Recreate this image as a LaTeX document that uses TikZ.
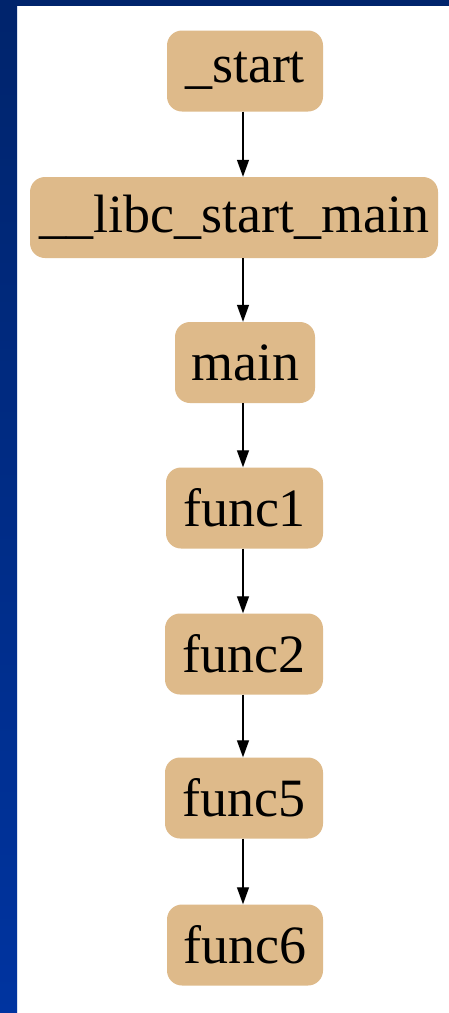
\documentclass[tikz,border=0pt]{standalone}
\usepackage{fontspec}
\setmainfont{Liberation Serif}
\usetikzlibrary{arrows.meta}
\definecolor{nodefill}{RGB}{222,186,138}
\definecolor{navy}{RGB}{0,36,108}
\definecolor{frameblue}{RGB}{0,52,160}
\tikzset{
  fn/.style={fill=nodefill, rounded corners=15pt, minimum height=81pt,
    inner xsep=0pt, inner ysep=0pt, font=\fontsize{54}{54}\selectfont,
    text=black, anchor=center},
  call/.style={-{Triangle[length=17pt,width=12pt]}, line width=1.3pt, black}
}
\begin{document}
\begin{tikzpicture}[x=1pt,y=-1pt]
  % page frame
  \useasboundingbox (0,0) rectangle (449,1013);
  \fill[white] (0,0) rectangle (449,1013);
  \shade[top color=navy, bottom color=frameblue] (0,0) rectangle (17,1013);
  \fill[navy] (0,0) rectangle (449,6);
  \fill[white!85!frameblue] (17,6) rectangle (18,1013);

  % call chain
  \node[fn, minimum width=156pt] (start) at (245,71) {\_start};
  \node[fn, minimum width=408pt] (libc)  at (234,217.5) {\_\_libc\_start\_main};
  \node[fn, minimum width=140pt] (main)  at (245,362.5) {main};
  \node[fn, minimum width=157pt] (f1)    at (244.5,508) {func1};
  \node[fn, minimum width=158pt] (f2)    at (244,654) {func2};
  \node[fn, minimum width=158pt] (f5)    at (244,798) {func5};
  \node[fn, minimum width=156pt] (f6)    at (245,945) {func6};

  \draw[call] ([xshift=-2pt]start.south) -- ([xshift=-2pt]start.south |- libc.north);
  \draw[call] ([xshift=-2pt]start.south |- libc.south) -- ([xshift=-2pt]main.north);
  \draw[call] ([xshift=-2pt]main.south) -- ([xshift=-1.5pt]f1.north);
  \draw[call] ([xshift=-1.5pt]f1.south) -- ([xshift=-1pt]f2.north);
  \draw[call] ([xshift=-1pt]f2.south) -- ([xshift=-1pt]f5.north);
  \draw[call] ([xshift=-1pt]f5.south) -- ([xshift=-2pt]f6.north);
\end{tikzpicture}
\end{document}
